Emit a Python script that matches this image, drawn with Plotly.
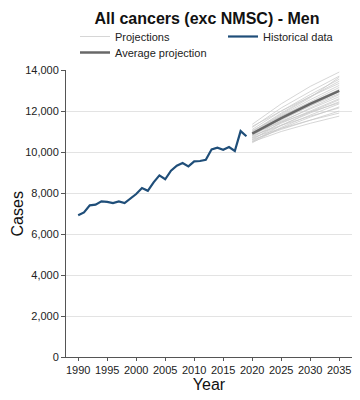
import plotly.graph_objects as go

hist_years = list(range(1990, 2020))
hist_values = [6910, 7050, 7400, 7430, 7590, 7570, 7510, 7590, 7510, 7750,
               7950, 8240, 8110, 8520, 8860, 8670, 9090, 9330, 9460, 9300,
               9540, 9560, 9620, 10130, 10210, 10110, 10240, 10050, 11020, 10770]

proj_years = [2020, 2025, 2030, 2035]
projections = [
    [11350, 12350, 13200, 13900],
    [11200, 12150, 12950, 13700],
    [11100, 12000, 12800, 13550],
    [11000, 11900, 12700, 13450],
    [11250, 12000, 12700, 13350],
    [10950, 11800, 12550, 13250],
    [10900, 11750, 12450, 13150],
    [11050, 11750, 12400, 13050],
    [10800, 11600, 12300, 13000],
    [10700, 11550, 12250, 12950],
    [10950, 11600, 12250, 12850],
    [10600, 11450, 12150, 12800],
    [10850, 11500, 12100, 12700],
    [10750, 11400, 12000, 12600],
    [10500, 11300, 11950, 12550],
    [10650, 11300, 11900, 12450],
    [10900, 11450, 11950, 12400],
    [10450, 11200, 11800, 12350],
    [10550, 11150, 11700, 12200],
    [10800, 11300, 11750, 12150],
    [10600, 11100, 11550, 12000],
    [10700, 11150, 11550, 11900],
    [10500, 11000, 11400, 11750],
    [11000, 11850, 12650, 13650],
]
avg_projection = [10900, 11650, 12350, 12980]

x_ticks = list(range(1990, 2040, 5))
y_ticks = list(range(0, 16000, 2000))

FONT = "Liberation Sans, Arial, sans-serif"

fig = go.Figure()
for i, p in enumerate(projections):
    fig.add_trace(go.Scatter(
        x=proj_years, y=p, mode="lines",
        line=dict(color="rgba(200,200,200,0.75)", width=1),
        name="Projections", legendgroup="proj", legend="legend",
        showlegend=(i == 0), hoverinfo="skip"))
fig.add_trace(go.Scatter(
    x=hist_years, y=hist_values, mode="lines", legend="legend2",
    line=dict(color="#1f4e79", width=2.2), name="Historical data"))
fig.add_trace(go.Scatter(
    x=proj_years, y=avg_projection, mode="lines", legend="legend3",
    line=dict(color="#686868", width=2.5), name="Average projection"))

leg_common = dict(orientation="v", xanchor="left", yanchor="top",
                  xref="container", yref="container",
                  font=dict(size=11, color="#222"), tracegroupgap=0,
                  itemwidth=30, bgcolor="rgba(0,0,0,0)", borderwidth=0)

fig.update_layout(
    width=360, height=400,
    margin=dict(l=58, r=16, t=62, b=51, autoexpand=False),
    paper_bgcolor="white", plot_bgcolor="white",
    font=dict(family=FONT, color="#222", size=12),
    title=dict(text="<b>All cancers (exc NMSC) - Men</b>", x=199 / 360, xref="container",
               xanchor="center", y=1 - 5 / 400, yanchor="top", yref="container",
               font=dict(size=16, color="#111")),
    legend=dict(x=67 / 360, y=1 - 14 / 400, **leg_common),
    legend2=dict(x=215 / 360, y=1 - 14 / 400, **leg_common),
    legend3=dict(x=67 / 360, y=1 - 30 / 400, **leg_common),
    showlegend=True,
    annotations=[dict(text="Cases", xref="paper", yref="paper", x=-0.168, y=0.5,
                      xanchor="center", yanchor="middle", textangle=-90,
                      showarrow=False, font=dict(size=16, color="#111"))],
)
fig.update_xaxes(
    range=[1987.9, 2037.2], tickvals=x_ticks, ticktext=[str(v) for v in x_ticks],
    showline=True, linecolor="#555", linewidth=1, ticks="outside", ticklen=3,
    tickcolor="#555", showgrid=False, zeroline=False, automargin=True,
    tickfont=dict(size=11, color="#222"),
    title=dict(text="Year", font=dict(size=16, color="#111"), standoff=2))
fig.update_yaxes(
    range=[0, 14000], tickvals=y_ticks, tickformat=",",
    showline=True, linecolor="#555", linewidth=1, ticks="outside", ticklen=4,
    tickcolor="#555", showgrid=True, gridcolor="#e3e3e3", gridwidth=1,
    zeroline=False, tickfont=dict(size=11, color="#222"), automargin=True)

fig.write_html("out.html")
